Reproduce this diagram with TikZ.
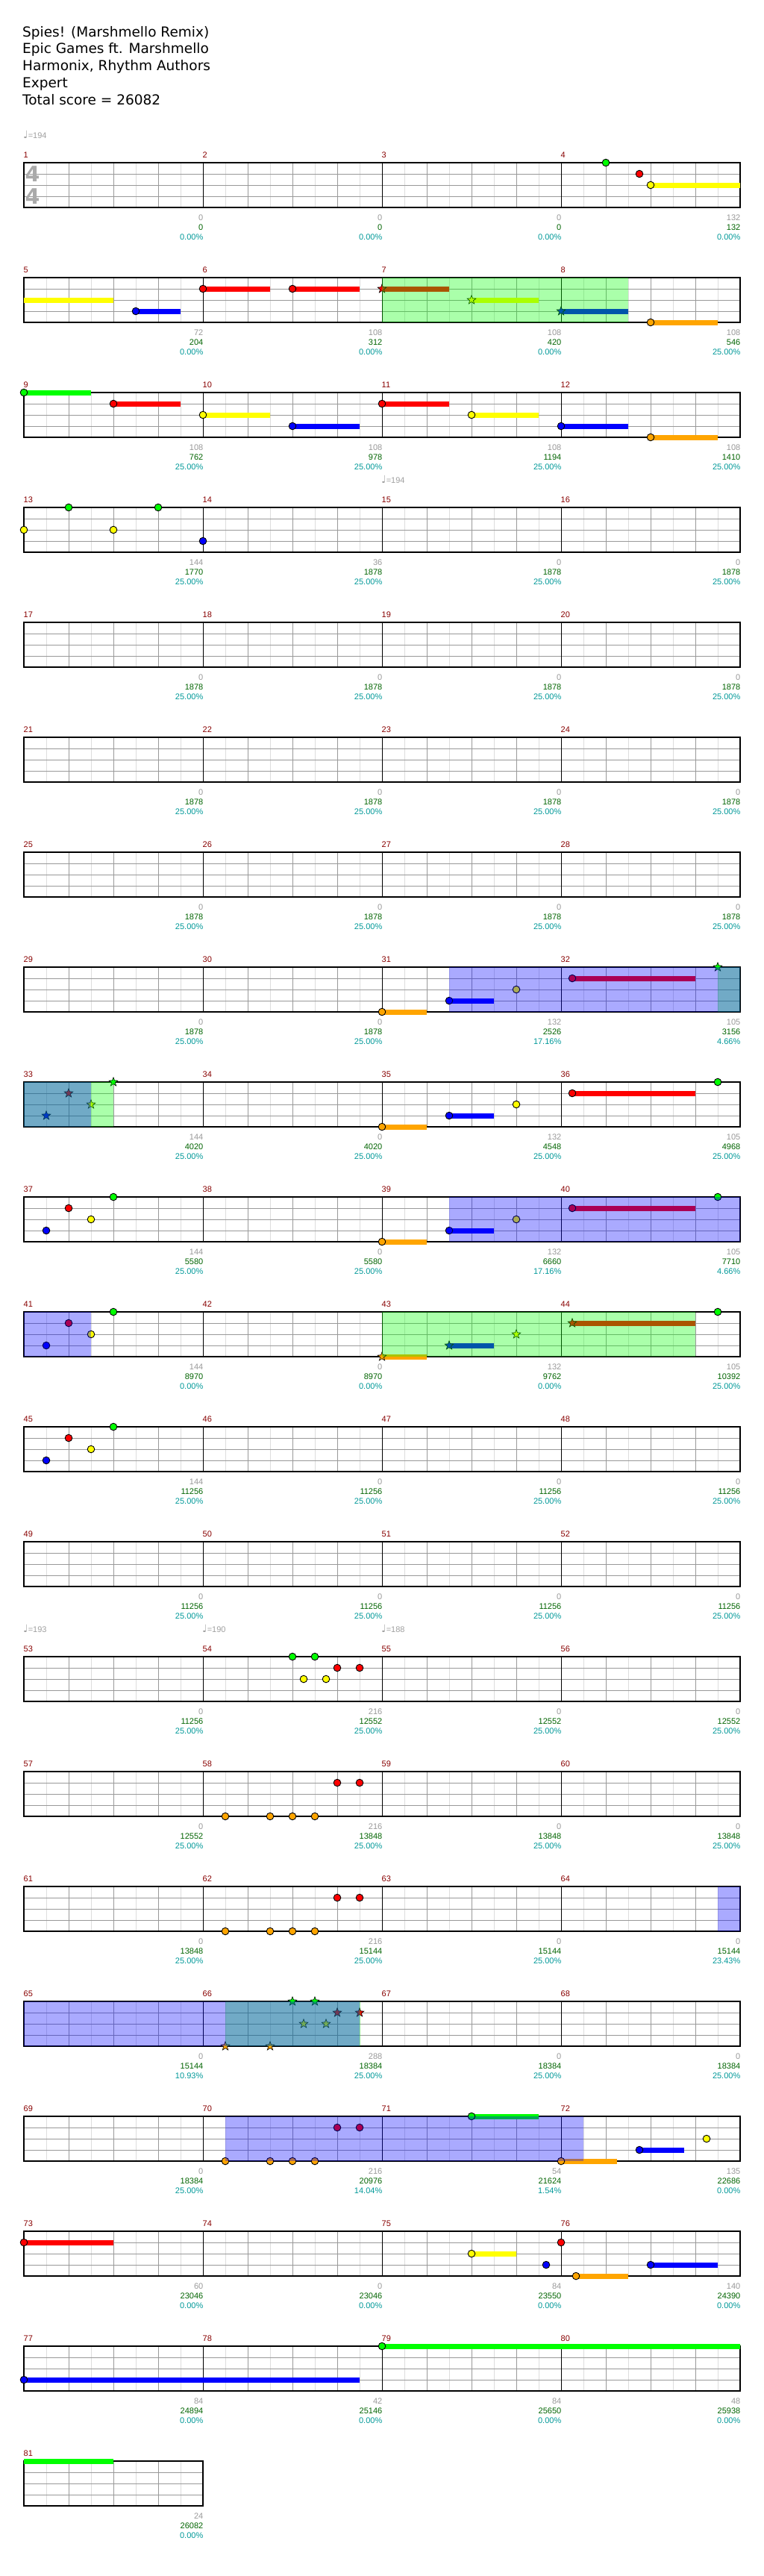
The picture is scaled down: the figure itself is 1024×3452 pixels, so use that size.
\documentclass[tikz,border=0pt]{standalone}
\usepackage{fontspec}
\setmainfont{DejaVu Sans}
\newfontfamily\djv{DejaVu Sans}
\newfontfamily\lab{Liberation Sans}
\usetikzlibrary{shapes.geometric}
\definecolor{cG}{RGB}{0,255,0}
\definecolor{cR}{RGB}{255,0,0}
\definecolor{cY}{RGB}{255,255,0}
\definecolor{cB}{RGB}{0,0,255}
\definecolor{cO}{RGB}{255,165,0}
\definecolor{mnumc}{RGB}{136,0,0}
\definecolor{lgray}{RGB}{153,153,153}
\definecolor{lgreen}{RGB}{0,100,0}
\definecolor{lteal}{RGB}{0,153,153}
\definecolor{gridlc}{RGB}{221,221,221}
\definecolor{gridbc}{RGB}{153,153,153}
\definecolor{tsigc}{RGB}{170,170,170}
\definecolor{tempoc}{RGB}{160,160,160}
\newcounter{stc}
\tikzset{
  gridl/.style={draw=gridlc, line width=0.8pt},
  gridh/.style={draw=gridbc, line width=1pt},
  gridb/.style={draw=gridbc, line width=0.8pt},
  gridm/.style={draw=black, line width=0.8pt},
  staffb/.style={draw=black, line width=1.3pt},
  notehead/.style={draw=black, line width=0.9pt},
  spstar/.style={star, star points=5, star point ratio=2.4, minimum size=12.5pt, inner sep=0pt, draw=black, line width=0.6pt},
  lab/.style={font=\lab\fontsize{11}{13}\selectfont, inner sep=0pt},
  tempo/.style={font=\lab\fontsize{11}{13}\selectfont, text=tempoc, inner sep=0pt, anchor=base west},
  title/.style={font=\djv\fontsize{18.5}{22}\selectfont, anchor=base west, inner sep=0pt},
  tsig/.style={font=\djv\bfseries\fontsize{28.5}{30}\selectfont, text=tsigc, inner sep=0pt},
}
% row, number of beats
\newcommand\chgrid[2]{%
  \pgfmathsetmacro\chty{218+154*#1}%
  \pgfmathtruncatemacro\chne{2*#2-1}%
  \pgfmathtruncatemacro\chnb{#2-1}%
  \foreach \kk in {1,3,...,\chne} {\draw[gridl] ({32+30*\kk},\chty) -- ++(0,60);}
  \foreach \lnn in {1,2,3} {\draw[gridh] (32,{\chty+15*\lnn}) -- ({32+60*#2},{\chty+15*\lnn});}
  \foreach \jj in {1,...,\chnb} {\pgfmathtruncatemacro\chmd{mod(\jj,4)}%
    \ifnum\chmd=0 \draw[gridm] ({32+60*\jj},\chty) -- ++(0,60);\else \draw[gridb] ({32+60*\jj},\chty) -- ++(0,60);\fi}
  \draw[staffb] (32,\chty) rectangle ({32+60*#2},{\chty+60});
}
% row, beat, lane, colour
\newcommand\chnote[4]{\filldraw[notehead, fill=#4] ({32+60*(#2)},{218+154*(#1)+15*(#3)}) circle[radius=4.8];}
\newcommand\chstar[4]{\stepcounter{stc}\node[spstar, fill=#4] (st\arabic{stc}) at ({32+60*(#2)},{218+154*(#1)+15*(#3)}) {};}
% row, beat1, beat2, lane, colour
\newcommand\chsus[5]{\fill[#5] ({32+60*(#2)},{218+154*(#1)+15*(#4)-3.5}) rectangle ({32+60*(#3)},{218+154*(#1)+15*(#4)+3.5});}
% row, beat1, beat2, colour
\newcommand\chovl[4]{\fill[#4, fill opacity=0.3333] ({32+60*(#2)},{218+154*(#1)}) rectangle ({32+60*(#3)},{218+154*(#1)+60});}
\begin{document}
\begin{tikzpicture}[x=1pt,y=-1pt]
\useasboundingbox (0,0) rectangle (1024,3452);
\fill[white] (0,0) rectangle (1024,3452);
% title
\node[title] (t1) at (30,49.3) {Spies! (Marshmello Remix)};
\node[title] (t2) at (30,72) {Epic Games ft. Marshmello};
\node[title] (t3) at (30,94.7) {Harmonix, Rhythm Authors};
\node[title] (t4) at (30,117.4) {Expert};
\node[title] (t5) at (30,140.1) {Total score = 26082};
% tempo markers
\node[tempo] (tp1) at (31,185.5) {{\djv\fontsize{14}{14}\selectfont ♩}=194};
\node[tempo] (tp2) at (511,647.5) {{\djv\fontsize{14}{14}\selectfont ♩}=194};
\node[tempo] (tp3) at (31,2187.5) {{\djv\fontsize{14}{14}\selectfont ♩}=193};
\node[tempo] (tp4) at (271,2187.5) {{\djv\fontsize{14}{14}\selectfont ♩}=190};
\node[tempo] (tp5) at (511,2187.5) {{\djv\fontsize{14}{14}\selectfont ♩}=188};
% grids
\foreach \rr in {0,...,19} {\chgrid{\rr}{16}}
\chgrid{20}{4}
% time signature
\node[tsig] (ts1) at (43.5,233) {4};
\node[tsig] (ts2) at (43.5,263) {4};
% row 0
\chnote{0}{13}{0}{cG}
\chnote{0}{13.75}{1}{cR}
\chsus{0}{14}{16}{2}{cY}\chnote{0}{14}{2}{cY}
% row 1
\chsus{1}{0}{2}{2}{cY}
\chsus{1}{2.5}{3.5}{3}{cB}\chnote{1}{2.5}{3}{cB}
\chsus{1}{4}{5.5}{1}{cR}\chnote{1}{4}{1}{cR}
\chsus{1}{6}{7.5}{1}{cR}\chnote{1}{6}{1}{cR}
\chsus{1}{8}{9.5}{1}{cR}\chstar{1}{8}{1}{cR}
\chsus{1}{10}{11.5}{2}{cY}\chstar{1}{10}{2}{cY}
\chsus{1}{12}{13.5}{3}{cB}\chstar{1}{12}{3}{cB}
\chsus{1}{14}{15.5}{4}{cO}\chnote{1}{14}{4}{cO}
% row 2
\chsus{2}{0}{1.5}{0}{cG}\chnote{2}{0}{0}{cG}
\chsus{2}{2}{3.5}{1}{cR}\chnote{2}{2}{1}{cR}
\chsus{2}{4}{5.5}{2}{cY}\chnote{2}{4}{2}{cY}
\chsus{2}{6}{7.5}{3}{cB}\chnote{2}{6}{3}{cB}
\chsus{2}{8}{9.5}{1}{cR}\chnote{2}{8}{1}{cR}
\chsus{2}{10}{11.5}{2}{cY}\chnote{2}{10}{2}{cY}
\chsus{2}{12}{13.5}{3}{cB}\chnote{2}{12}{3}{cB}
\chsus{2}{14}{15.5}{4}{cO}\chnote{2}{14}{4}{cO}
% row 3
\chnote{3}{0}{2}{cY}\chnote{3}{1}{0}{cG}\chnote{3}{2}{2}{cY}\chnote{3}{3}{0}{cG}\chnote{3}{4}{3}{cB}
% row 7
\chsus{7}{8}{9}{4}{cO}\chnote{7}{8}{4}{cO}
\chsus{7}{9.5}{10.5}{3}{cB}\chnote{7}{9.5}{3}{cB}
\chnote{7}{11}{2}{cY}
\chsus{7}{12.25}{15}{1}{cR}\chnote{7}{12.25}{1}{cR}
\chstar{7}{15.5}{0}{cG}
% row 8
\chstar{8}{0.5}{3}{cB}\chstar{8}{1}{1}{cR}\chstar{8}{1.5}{2}{cY}\chstar{8}{2}{0}{cG}
\chsus{8}{8}{9}{4}{cO}\chnote{8}{8}{4}{cO}
\chsus{8}{9.5}{10.5}{3}{cB}\chnote{8}{9.5}{3}{cB}
\chnote{8}{11}{2}{cY}
\chsus{8}{12.25}{15}{1}{cR}\chnote{8}{12.25}{1}{cR}
\chnote{8}{15.5}{0}{cG}
% row 9
\chnote{9}{0.5}{3}{cB}\chnote{9}{1}{1}{cR}\chnote{9}{1.5}{2}{cY}\chnote{9}{2}{0}{cG}
\chsus{9}{8}{9}{4}{cO}\chnote{9}{8}{4}{cO}
\chsus{9}{9.5}{10.5}{3}{cB}\chnote{9}{9.5}{3}{cB}
\chnote{9}{11}{2}{cY}
\chsus{9}{12.25}{15}{1}{cR}\chnote{9}{12.25}{1}{cR}
\chnote{9}{15.5}{0}{cG}
% row 10
\chnote{10}{0.5}{3}{cB}\chnote{10}{1}{1}{cR}\chnote{10}{1.5}{2}{cY}\chnote{10}{2}{0}{cG}
\chsus{10}{8}{9}{4}{cO}\chstar{10}{8}{4}{cO}
\chsus{10}{9.5}{10.5}{3}{cB}\chstar{10}{9.5}{3}{cB}
\chstar{10}{11}{2}{cY}
\chsus{10}{12.25}{15}{1}{cR}\chstar{10}{12.25}{1}{cR}
\chnote{10}{15.5}{0}{cG}
% row 11
\chnote{11}{0.5}{3}{cB}\chnote{11}{1}{1}{cR}\chnote{11}{1.5}{2}{cY}\chnote{11}{2}{0}{cG}
% row 13
\chnote{13}{6}{0}{cG}\chnote{13}{6.5}{0}{cG}
\chnote{13}{6.25}{2}{cY}\chnote{13}{6.75}{2}{cY}
\chnote{13}{7}{1}{cR}\chnote{13}{7.5}{1}{cR}
% row 14
\chnote{14}{4.5}{4}{cO}\chnote{14}{5.5}{4}{cO}\chnote{14}{6}{4}{cO}\chnote{14}{6.5}{4}{cO}
\chnote{14}{7}{1}{cR}\chnote{14}{7.5}{1}{cR}
% row 15
\chnote{15}{4.5}{4}{cO}\chnote{15}{5.5}{4}{cO}\chnote{15}{6}{4}{cO}\chnote{15}{6.5}{4}{cO}
\chnote{15}{7}{1}{cR}\chnote{15}{7.5}{1}{cR}
% row 16
\chstar{16}{4.5}{4}{cO}\chstar{16}{5.5}{4}{cO}
\chstar{16}{6}{0}{cG}\chstar{16}{6.5}{0}{cG}
\chstar{16}{6.25}{2}{cY}\chstar{16}{6.75}{2}{cY}
\chstar{16}{7}{1}{cR}\chstar{16}{7.5}{1}{cR}
% row 17
\chnote{17}{4.5}{4}{cO}\chnote{17}{5.5}{4}{cO}\chnote{17}{6}{4}{cO}\chnote{17}{6.5}{4}{cO}
\chnote{17}{7}{1}{cR}\chnote{17}{7.5}{1}{cR}
\chsus{17}{10}{11.5}{0}{cG}\chnote{17}{10}{0}{cG}
\chsus{17}{12}{13.25}{4}{cO}\chnote{17}{12}{4}{cO}
\chsus{17}{13.75}{14.75}{3}{cB}\chnote{17}{13.75}{3}{cB}
\chnote{17}{15.25}{2}{cY}
% row 18
\chsus{18}{0}{2}{1}{cR}\chnote{18}{0}{1}{cR}
\chsus{18}{10}{11}{2}{cY}\chnote{18}{10}{2}{cY}
\chsus{18}{12.3333}{13.5}{4}{cO}
\chsus{18}{14}{15.5}{3}{cB}
\chnote{18}{11.6667}{3}{cB}
\chnote{18}{12}{1}{cR}
\chnote{18}{12.3333}{4}{cO}
\chnote{18}{14}{3}{cB}
% row 19
\chsus{19}{0}{7.5}{3}{cB}\chnote{19}{0}{3}{cB}
\chsus{19}{8}{16}{0}{cG}\chnote{19}{8}{0}{cG}
% row 20
\chsus{20}{0}{2}{0}{cG}
% overlays: star power (green) first, then activation (blue)
\chovl{1}{8}{13.5}{cG}
\chovl{7}{15.5}{16}{cG}
\chovl{8}{0}{2}{cG}
\chovl{10}{8}{15}{cG}
\chovl{16}{4.5}{7.52}{cG}
\chovl{7}{9.5}{16}{cB}
\chovl{8}{0}{1.5}{cB}
\chovl{9}{9.5}{16}{cB}
\chovl{10}{0}{1.5}{cB}
\chovl{15}{15.5}{16}{cB}
\chovl{16}{0}{7.5}{cB}
\chovl{17}{4.5}{12.5}{cB}
% measure labels
\foreach \qa/\qb/\qc [count=\mm] in {
0/0/0.00, 0/0/0.00, 0/0/0.00, 132/132/0.00,
72/204/0.00, 108/312/0.00, 108/420/0.00, 108/546/25.00,
108/762/25.00, 108/978/25.00, 108/1194/25.00, 108/1410/25.00,
144/1770/25.00, 36/1878/25.00, 0/1878/25.00, 0/1878/25.00,
0/1878/25.00, 0/1878/25.00, 0/1878/25.00, 0/1878/25.00,
0/1878/25.00, 0/1878/25.00, 0/1878/25.00, 0/1878/25.00,
0/1878/25.00, 0/1878/25.00, 0/1878/25.00, 0/1878/25.00,
0/1878/25.00, 0/1878/25.00, 132/2526/17.16, 105/3156/4.66,
144/4020/25.00, 0/4020/25.00, 132/4548/25.00, 105/4968/25.00,
144/5580/25.00, 0/5580/25.00, 132/6660/17.16, 105/7710/4.66,
144/8970/0.00, 0/8970/0.00, 132/9762/0.00, 105/10392/25.00,
144/11256/25.00, 0/11256/25.00, 0/11256/25.00, 0/11256/25.00,
0/11256/25.00, 0/11256/25.00, 0/11256/25.00, 0/11256/25.00,
0/11256/25.00, 216/12552/25.00, 0/12552/25.00, 0/12552/25.00,
0/12552/25.00, 216/13848/25.00, 0/13848/25.00, 0/13848/25.00,
0/13848/25.00, 216/15144/25.00, 0/15144/25.00, 0/15144/23.43,
0/15144/10.93, 288/18384/25.00, 0/18384/25.00, 0/18384/25.00,
0/18384/25.00, 216/20976/14.04, 54/21624/1.54, 135/22686/0.00,
60/23046/0.00, 0/23046/0.00, 84/23550/0.00, 140/24390/0.00,
84/24894/0.00, 42/25146/0.00, 84/25650/0.00, 48/25938/0.00,
24/26082/0.00} {
  \pgfmathtruncatemacro\chr{(\mm-1)/4}
  \pgfmathtruncatemacro\chc{mod(\mm-1,4)}
  \node[lab, text=mnumc, anchor=west] (mn\mm) at ({32+240*\chc-0.5},{218+154*\chr-10.7}) {\mm};
  \node[lab, text=lgray, anchor=east] (ms\mm) at ({32+240*(\chc+1)+0.5},{218+154*\chr+73.3}) {\qa};
  \node[lab, text=lgreen, anchor=east] (mc\mm) at ({32+240*(\chc+1)+0.5},{218+154*\chr+86.3}) {\qb};
  \node[lab, text=lteal, anchor=east] (mp\mm) at ({32+240*(\chc+1)+0.5},{218+154*\chr+99.3}) {\qc\%};
}
\end{tikzpicture}
\end{document}
